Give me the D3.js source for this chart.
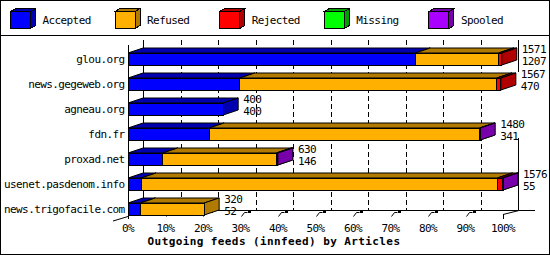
<!DOCTYPE html>
<html>
<head>
<meta charset="utf-8">
<script src="https://cdn.jsdelivr.net/npm/d3@7"></script>
<style>
  body { margin: 0; background: #fff; }
  text { font-family: "DejaVu Sans Mono", "Liberation Mono", monospace; font-size: 11px; letter-spacing: -0.6px; fill: #000; }
  .title { font-weight: bold; letter-spacing: 0.4px; }
</style>
</head>
<body>
<div id="chart"></div>
<script>
// feeds, top to bottom
const feeds = ["glou.org", "news.gegeweb.org", "agneau.org", "fdn.fr", "proxad.net", "usenet.pasdenom.info", "news.trigofacile.com"];
const accepted = [1207, 470, 400, 341, 146, 55, 52];
const refused  = [351, 1080, 0, 1137, 478, 1498, 268];
const rejected = [13, 17, 0, 0, 4, 21, 0];
const missing  = [0, 0, 0, 0, 0, 0, 0];
const spooled  = [0, 0, 0, 2, 2, 2, 0];

const seriesNames = ["Accepted", "Refused", "Rejected", "Missing", "Spooled"];
const frontColors = ["#0000ff", "#ffb000", "#ff0000", "#00ff00", "#aa00ff"];
const shadeColors = ["#0000b0", "#b07b00", "#b00000", "#00a000", "#7700aa"];
const tickValues = [0, 0.1, 0.2, 0.3, 0.4, 0.5, 0.6, 0.7, 0.8, 0.9, 1];

const W = 550, H = 255;
const DX = 15, DY = 5;   // 3d depth

const svg = d3.select("#chart").append("svg")
  .attr("width", W).attr("height", H)
  .attr("shape-rendering", "crispEdges");

// outer frame + legend separator
svg.append("rect").attr("x", 0.5).attr("y", 0.5).attr("width", W - 1).attr("height", H - 1)
  .attr("fill", "#fff").attr("stroke", "#000");
svg.append("line").attr("x1", 0).attr("x2", W).attr("y1", 35.5).attr("y2", 35.5).attr("stroke", "#000");

// legend
const leg = svg.selectAll(".leg").data(seriesNames).enter().append("g")
  .attr("transform", (d, i) => `translate(${10.5 + i * 104.6},0)`);
leg.append("polygon")
  .attr("points", "0,11.5 5,8.5 25,8.5 20,11.5")
  .attr("fill", (d, i) => shadeColors[i]).attr("stroke", "#000");
leg.append("polygon")
  .attr("points", "20,11.5 25,8.5 25,25.5 20,28.5")
  .attr("fill", (d, i) => shadeColors[i]).attr("stroke", "#000");
leg.append("rect").attr("x", 0).attr("y", 11.5).attr("width", 20).attr("height", 17)
  .attr("fill", (d, i) => frontColors[i]).attr("stroke", "#000");
leg.append("text").attr("x", 32).attr("y", 24).text(d => d);

// data
const series = [accepted, refused, rejected, missing, spooled];
const totals = feeds.map((f, i) => d3.sum(series, s => s[i]));
const maxTotal = d3.max(totals);

const x = d3.scaleLinear().domain([0, 1]).range([128, 503]);
const y = d3.scaleBand().domain(feeds).range([46.5, 221.5]);
const pct = v => v / maxTotal;

// back wall grid
svg.selectAll(".grid").data(tickValues.slice(1, -1)).enter().append("line")
  .attr("x1", d => Math.round(x(d)) + DX + 0.5).attr("x2", d => Math.round(x(d)) + DX + 0.5)
  .attr("y1", 40).attr("y2", 210)
  .attr("stroke", "#000").attr("stroke-dasharray", "5,3");
svg.append("line").attr("x1", x(0) + DX + 0.5).attr("x2", x(0) + DX + 0.5).attr("y1", 40).attr("y2", 210.5).attr("stroke", "#000");
svg.append("line").attr("x1", x(0) + DX).attr("x2", 535).attr("y1", 210.5).attr("y2", 210.5).attr("stroke", "#000");
svg.append("line").attr("x1", x(1) + DX + 0.5).attr("x2", x(1) + DX + 0.5).attr("y1", 40).attr("y2", 72).attr("stroke", "#000");
svg.append("line").attr("x1", x(1) + DX + 0.5).attr("x2", x(1) + DX + 0.5).attr("y1", 138).attr("y2", 210.5).attr("stroke", "#000");

// front axis
svg.append("line").attr("x1", x(0) + 0.5).attr("x2", x(0) + 0.5).attr("y1", 45).attr("y2", 219).attr("stroke", "#000");
svg.append("line").attr("x1", x(0) - DX).attr("y1", 221).attr("x2", x(0)).attr("y2", 216.5)
  .attr("stroke", "#000").attr("shape-rendering", "auto");

// bottom ticks (drawn before bars, so the lowest bar hides some)
const ticks = svg.append("g").attr("shape-rendering", "auto");
tickValues.slice(1, -1).forEach(t => {
  const fx = Math.round(x(t)) + 0.5;
  ticks.append("polyline").attr("points", `${fx},216.5 ${fx + 3},212.5 ${fx + 6},212.5`)
    .attr("fill", "none").attr("stroke", "#000");
  ticks.append("rect").attr("x", fx + 6.5).attr("y", 210).attr("width", 3).attr("height", 3).attr("fill", "#000");
});
ticks.append("line").attr("x1", x(1) + 0.5).attr("x2", x(1) + 0.5).attr("y1", 214).attr("y2", 219).attr("stroke", "#000");
ticks.append("line").attr("x1", x(1)).attr("y1", 214.5).attr("x2", x(1) + DX + 1).attr("y2", 210.5).attr("stroke", "#000");

// bars
const boxes = [];
feeds.forEach((f, i) => {
  let cum = 0;
  series.forEach((s, k) => {
    if (s[i] > 0) boxes.push({ feed: f, k: k, x0: x(pct(cum)), x1: x(pct(cum + s[i])) });
    cum += s[i];
  });
});
const box = svg.selectAll(".box").data(boxes).enter().append("g");
const top0 = d => y(d.feed) + 6.5;
box.append("polygon")
  .attr("points", d => { const t = top0(d); return `${d.x0},${t} ${d.x0 + DX},${t - DY} ${d.x1 + DX},${t - DY} ${d.x1},${t}`; })
  .attr("fill", d => shadeColors[d.k]).attr("stroke", "#000").attr("shape-rendering", "auto");
box.append("polygon")
  .attr("points", d => { const t = top0(d); return `${d.x1},${t} ${d.x1 + DX},${t - DY} ${d.x1 + DX},${t + 12 - DY} ${d.x1},${t + 12}`; })
  .attr("fill", d => shadeColors[d.k]).attr("stroke", "#000").attr("shape-rendering", "auto");
box.append("rect")
  .attr("x", d => d.x0).attr("y", d => top0(d))
  .attr("width", d => d.x1 - d.x0).attr("height", 12)
  .attr("fill", d => frontColors[d.k]).attr("stroke", "#000");

// value labels: total / accepted
const lab = svg.selectAll(".val").data(feeds).enter().append("g")
  .attr("transform", (f, i) => `translate(${x(pct(totals[i])) + DX + 5},${y(f) + 6.5})`);
lab.append("text").attr("y", 0).text((f, i) => totals[i]);
lab.append("text").attr("y", 11.5).text((f, i) => accepted[i]);

// category labels
svg.selectAll(".cat").data(feeds).enter().append("text")
  .attr("x", 124.5).attr("y", f => y(f) + y.bandwidth() / 2 + 4)
  .attr("text-anchor", "end").text(f => f);

svg.selectAll(".tl").data(tickValues).enter().append("text")
  .attr("x", d => x(d)).attr("y", 231.5).attr("text-anchor", "middle")
  .text(d3.format(".0%"));

svg.append("text").attr("class", "title").attr("x", 274).attr("y", 244.5)
  .attr("text-anchor", "middle").text("Outgoing feeds (innfeed) by Articles");
</script>
</body>
</html>
